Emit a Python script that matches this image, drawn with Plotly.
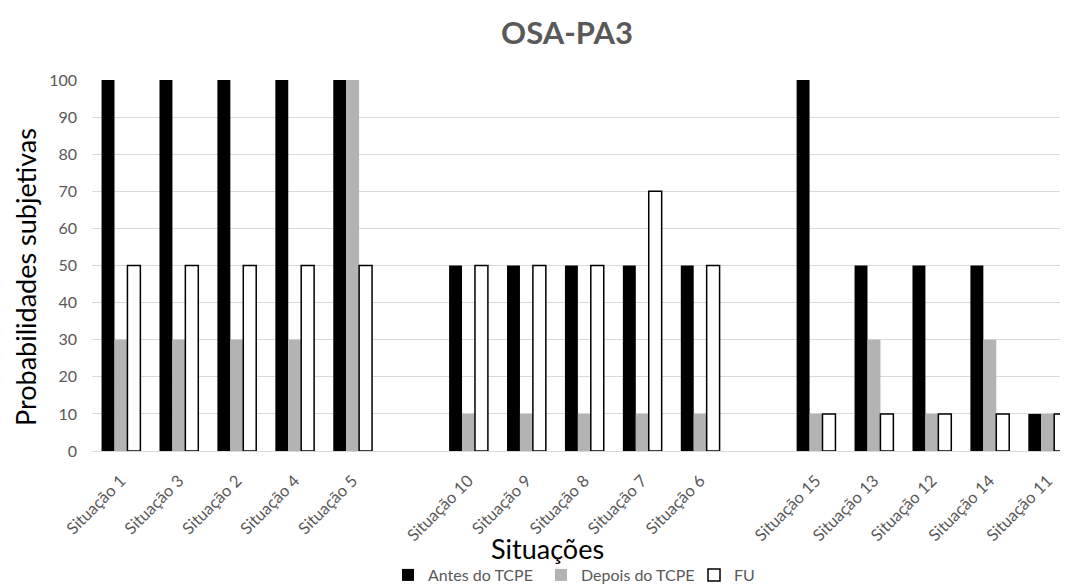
import plotly.graph_objects as go

categories = ["Situação 1", "Situação 3", "Situação 2", "Situação 4", "Situação 5", " ",
              "Situação 10", "Situação 9", "Situação 8", "Situação 7", "Situação 6", "  ",
              "Situação 15", "Situação 13", "Situação 12", "Situação 14", "Situação 11"]
antes = [100, 100, 100, 100, 100, None, 50, 50, 50, 50, 50, None, 100, 50, 50, 50, 10]
depois = [30, 30, 30, 30, 100, None, 10, 10, 10, 10, 10, None, 10, 30, 10, 30, 10]
fu = [50, 50, 50, 50, 50, None, 50, 50, 50, 70, 50, None, 10, 10, 10, 10, 10]
y_ticks = [0, 10, 20, 30, 40, 50, 60, 70, 80, 90, 100]

font = "Lato, 'Open Sans', sans-serif"
grey_text = "#595959"

W, H = 1060, 578  # page body has an 8px margin

fig = go.Figure()
fig.add_trace(go.Bar(x=categories, y=antes, name="Antes do TCPE",
                     marker=dict(color="black", line=dict(width=0))))
fig.add_trace(go.Bar(x=categories, y=depois, name="Depois do TCPE",
                     marker=dict(color="#b3b3b3", line=dict(width=0))))
fig.add_trace(go.Bar(x=categories, y=fu, name="FU", cliponaxis=True,
                     marker=dict(color="white", line=dict(color="black", width=1.5))))

fig.update_layout(
    width=W, height=H,
    margin=dict(l=84, r=0, t=72, b=135, autoexpand=False),
    paper_bgcolor="white", plot_bgcolor="white",
    barmode="group", bargap=0.33, bargroupgap=0,
    font=dict(family=font, color=grey_text, size=14),
    title=dict(text="<b>OSA-PA3</b>", x=559/W, xanchor="center",
               y=1-25/H, yanchor="middle",
               font=dict(size=31, color=grey_text, family=font)),
    showlegend=True,
    legend=dict(orientation="h", xref="paper", x=(388-92)/976, xanchor="left",
                yref="container", y=1-567/H, yanchor="middle",
                font=dict(size=16, color=grey_text, family=font),
                itemwidth=30, entrywidth=108, traceorder="normal"),
    xaxis=dict(type="category", categoryorder="array", categoryarray=categories,
               range=[-0.5, 16.35], tickangle=-45, showgrid=False, automargin=False,
               showline=False, zeroline=False, ticks="", ticklabelstandoff=16,
               tickfont=dict(size=16.5, color=grey_text, family=font)),
    yaxis=dict(range=[0, 100], tickvals=y_ticks, showgrid=True, gridcolor="#d9d9d9",
               gridwidth=1, zeroline=True, zerolinecolor="#d9d9d9", zerolinewidth=1,
               showline=False, ticks="", ticklabelstandoff=14, automargin=False,
               tickfont=dict(size=16, color=grey_text, family=font)),
    annotations=[
        dict(text="Situações", x=(547-92)/976, xref="paper", y=(451-548)/371, yref="paper",
             xanchor="center", yanchor="middle", showarrow=False,
             font=dict(size=27, color="black", family=font)),
        dict(text="Probabilidades subjetivas", x=(25-92)/976, xref="paper",
             y=(451-277)/371, yref="paper", textangle=-90, xanchor="center", yanchor="middle",
             showarrow=False, font=dict(size=27, color="black", family=font)),
    ],
)

fig.write_html("out.html")
